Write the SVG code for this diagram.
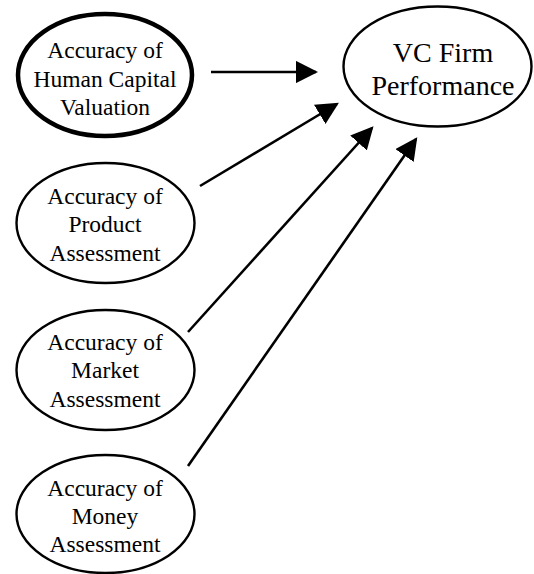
<svg xmlns="http://www.w3.org/2000/svg" width="534" height="574" viewBox="0 0 534 574">
<style>
.n{fill:#fff;stroke:#000;stroke-width:2.4}
.thick{stroke-width:4.5}
.t{font-family:"Liberation Serif","Times New Roman",serif;font-size:23.5px;fill:#000;text-anchor:middle}
.tv{font-size:28px}
.c{stroke:#000;stroke-width:2.6;fill:none;marker-end:url(#ah)}
</style>
<defs>
<marker id="ah" viewBox="0 0 10 10" refX="9" refY="5" markerWidth="8.6" markerHeight="8.6" markerUnits="strokeWidth" orient="auto">
<path d="M0,0 L10,5 L0,10 z" fill="#000"/>
</marker>
</defs>
<rect width="534" height="574" fill="#fff"/>
<g id="connectors">
<line class="c" x1="211" y1="72" x2="316" y2="72"/>
<line class="c" x1="200" y1="186" x2="337" y2="104"/>
<line class="c" x1="188" y1="332" x2="372" y2="128"/>
<line class="c" x1="188" y1="466" x2="416" y2="139"/>
</g>
<g id="node-hc">
<ellipse class="n thick" cx="105" cy="75" rx="87" ry="61"/>
<text class="t" x="105" y="58">Accuracy of</text>
<text class="t" x="105" y="87">Human Capital</text>
<text class="t" x="105" y="115">Valuation</text>
</g>
<g id="node-vc">
<ellipse class="n" cx="437.5" cy="66.5" rx="94" ry="60"/>
<text class="t tv" x="443" y="62">VC Firm</text>
<text class="t tv" x="443" y="95">Performance</text>
</g>
<g id="node-product">
<ellipse class="n" cx="105.5" cy="223" rx="89" ry="60"/>
<text class="t" x="105" y="204">Accuracy of</text>
<text class="t" x="105" y="232">Product</text>
<text class="t" x="105" y="261">Assessment</text>
</g>
<g id="node-market">
<ellipse class="n" cx="105.5" cy="370" rx="89" ry="60"/>
<text class="t" x="105" y="350">Accuracy of</text>
<text class="t" x="105" y="378">Market</text>
<text class="t" x="105" y="407">Assessment</text>
</g>
<g id="node-money">
<ellipse class="n" cx="105.5" cy="514" rx="89" ry="59"/>
<text class="t" x="105" y="496">Accuracy of</text>
<text class="t" x="105" y="524">Money</text>
<text class="t" x="105" y="552">Assessment</text>
</g>
</svg>
